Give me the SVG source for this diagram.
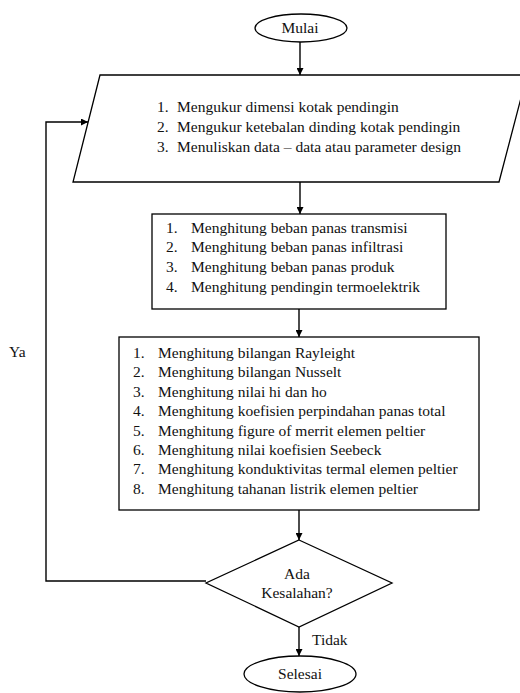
<svg xmlns="http://www.w3.org/2000/svg" width="520" height="693" viewBox="0 0 520 693">
<style>
.s{fill:#fff;stroke:#000;stroke-width:1.3}
.c{fill:none;stroke:#000;stroke-width:1.4}
text{font-family:"Liberation Serif","Times New Roman",serif;font-size:15.5px;fill:#111}
.m{text-anchor:middle}
</style>
<defs>
<marker id="a" viewBox="0 0 10 10" refX="10" refY="5" markerWidth="7" markerHeight="7" markerUnits="userSpaceOnUse" orient="auto">
<path d="M0,0L10,5L0,10z" fill="#000"/>
</marker>
</defs>
<rect width="520" height="693" fill="#fff"/>
<g id="connectors">
<line class="c" x1="300" y1="42" x2="300" y2="75" marker-end="url(#a)"/>
<line class="c" x1="300" y1="182" x2="300" y2="214" marker-end="url(#a)"/>
<line class="c" x1="299" y1="309" x2="299" y2="337" marker-end="url(#a)"/>
<line class="c" x1="299" y1="510" x2="299" y2="540" marker-end="url(#a)"/>
<line class="c" x1="299" y1="627" x2="299" y2="656" marker-end="url(#a)"/>
<polyline class="c" points="206,581 46,581 46,122 88,122" marker-end="url(#a)"/>
<text x="9" y="357">Ya</text>
<text x="312" y="645">Tidak</text>
</g>
<g id="mulai">
<ellipse class="s" cx="301" cy="28" rx="46" ry="14"/>
<text class="m" x="300" y="33">Mulai</text>
</g>
<g id="input">
<polygon class="s" points="100,75 527,75 499,182 73,182"/>
<text x="157" y="112">1.</text><text x="177" y="112">Mengukur dimensi kotak pendingin</text>
<text x="157" y="132">2.</text><text x="177" y="132">Mengukur ketebalan dinding kotak pendingin</text>
<text x="157" y="152">3.</text><text x="177" y="152">Menuliskan data – data atau parameter  design</text>
</g>
<g id="proses1">
<rect class="s" x="152" y="214" width="294" height="95"/>
<text x="166" y="233">1.</text><text x="191" y="233">Menghitung beban panas transmisi</text>
<text x="166" y="252">2.</text><text x="191" y="252">Menghitung beban panas infiltrasi</text>
<text x="166" y="272">3.</text><text x="191" y="272">Menghitung beban panas produk</text>
<text x="166" y="292">4.</text><text x="191" y="292">Menghitung pendingin termoelektrik</text>
</g>
<g id="proses2">
<rect class="s" x="119" y="337" width="360" height="173"/>
<text x="133" y="358">1.</text><text x="158" y="358">Menghitung bilangan Rayleight</text>
<text x="133" y="377">2.</text><text x="158" y="377">Menghitung bilangan Nusselt</text>
<text x="133" y="397">3.</text><text x="158" y="397">Menghitung nilai hi dan ho</text>
<text x="133" y="416">4.</text><text x="158" y="416">Menghitung koefisien perpindahan panas total</text>
<text x="133" y="436">5.</text><text x="158" y="436">Menghitung figure of merrit elemen peltier</text>
<text x="133" y="455">6.</text><text x="158" y="455">Menghitung nilai koefisien Seebeck</text>
<text x="133" y="474">7.</text><text x="158" y="474">Menghitung konduktivitas termal elemen peltier</text>
<text x="133" y="494">8.</text><text x="158" y="494">Menghitung tahanan listrik elemen peltier</text>
</g>
<g id="keputusan">
<polygon class="s" points="299,540 392,583 299,627 206,583"/>
<text class="m" x="297" y="579">Ada</text>
<text class="m" x="297" y="598">Kesalahan?</text>
</g>
<g id="selesai">
<ellipse class="s" cx="300" cy="674" rx="56" ry="18"/>
<text class="m" x="300" y="679">Selesai</text>
</g>
</svg>
